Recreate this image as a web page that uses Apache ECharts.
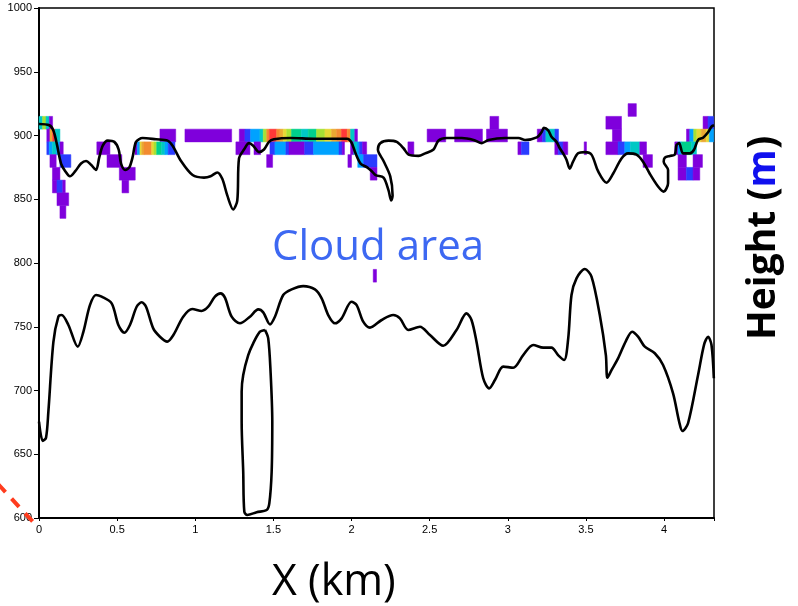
<!DOCTYPE html>
<html>
<head>
<meta charset="utf-8">
<title>Cloud area</title>
<script src="https://cdn.jsdelivr.net/npm/echarts@6/dist/echarts.min.js"></script>
<style>
  html, body { margin: 0; padding: 0; background: #fff; }
  #chart { width: 798px; height: 606px; }
</style>
</head>
<body>
<div id="chart"></div>
<script>
// tick labels
var xTicks = [0, 0.5, 1, 1.5, 2, 2.5, 3, 3.5, 4];
var yTicks = [600, 650, 700, 750, 800, 850, 900, 950, 1000];

// colour index -> rainbow colour of the cell
var palette = ['#7f00dc', '#2a3cff', '#00a2ff', '#00c8c4', '#00d08c',
               '#a6e034', '#e4d834', '#eaa832', '#f28a30', '#ff3838'];

// cells per height row (10 m tall): [x start km, x end km, colour index]
var row920 = [[3.77, 3.823, 0]];
var row910 = [[0, 0.023, 3], [0.023, 0.045, 5], [0.045, 0.066, 3], [0.066, 0.087, 0],
  [2.886, 2.942, 0], [3.628, 3.728, 0], [4.25, 4.282, 0], [4.282, 4.318, 1]];
var row900 = [[0.05, 0.07, 0], [0.07, 0.087, 7], [0.087, 0.102, 9], [0.102, 0.134, 3],
  [0.774, 0.875, 0], [0.934, 1.233, 0], [1.282, 1.318, 0], [1.318, 1.354, 1],
  [1.354, 1.414, 2], [1.414, 1.435, 3], [1.435, 1.457, 5], [1.457, 1.474, 8],
  [1.474, 1.521, 9], [1.521, 1.542, 8], [1.542, 1.563, 7], [1.563, 1.585, 6],
  [1.585, 1.616, 5], [1.616, 1.68, 4], [1.68, 1.723, 3], [1.723, 1.776, 4],
  [1.776, 1.83, 5], [1.83, 1.872, 6], [1.872, 1.904, 7], [1.904, 1.936, 8],
  [1.936, 1.972, 9], [1.972, 1.994, 8], [1.994, 2.021, 3], [2.021, 2.038, 0],
  [2.484, 2.603, 0], [2.66, 2.838, 0], [2.864, 2.998, 0], [3.189, 3.222, 0],
  [3.222, 3.244, 1], [3.244, 3.302, 3], [3.302, 3.325, 1], [3.67, 3.728, 0],
  [4.144, 4.165, 0], [4.165, 4.19, 2], [4.19, 4.21, 5], [4.21, 4.238, 6],
  [4.238, 4.27, 7], [4.27, 4.29, 6], [4.29, 4.318, 2]];
var row890 = [[0.05, 0.065, 1], [0.065, 0.086, 2], [0.086, 0.11, 3], [0.11, 0.134, 2],
  [0.134, 0.155, 0], [0.37, 0.454, 0], [0.614, 0.629, 0], [0.629, 0.646, 2],
  [0.646, 0.657, 6], [0.657, 0.672, 7], [0.672, 0.721, 8], [0.721, 0.736, 6],
  [0.736, 0.753, 5], [0.753, 0.785, 4], [0.785, 0.806, 3], [0.806, 0.827, 2],
  [0.827, 0.87, 1], [1.26, 1.35, 0], [1.376, 1.418, 0], [1.478, 1.51, 1],
  [1.51, 1.58, 2], [1.58, 1.6, 1], [1.6, 1.7, 0], [1.7, 1.757, 1],
  [1.757, 1.92, 2], [1.92, 1.94, 1], [1.94, 1.955, 0], [1.994, 2.015, 0],
  [2.015, 2.035, 3], [2.035, 2.05, 2], [2.05, 2.07, 1], [2.07, 2.097, 0],
  [2.361, 2.399, 0], [3.065, 3.087, 0], [3.087, 3.136, 1], [3.301, 3.323, 0],
  [3.323, 3.354, 1], [3.354, 3.384, 0], [3.489, 3.504, 0], [3.628, 3.706, 0],
  [3.706, 3.749, 1], [3.749, 3.785, 2], [3.785, 3.845, 3], [3.845, 3.888, 0],
  [4.069, 4.09, 0], [4.09, 4.112, 2], [4.112, 4.176, 4], [4.176, 4.208, 3]];
var row880 = [[0.07, 0.11, 0], [0.134, 0.204, 1], [0.435, 0.53, 0], [1.457, 1.495, 0],
  [1.977, 2.0, 0], [2.04, 2.077, 2], [2.077, 2.163, 1], [3.866, 3.926, 0],
  [4.09, 4.143, 0], [4.186, 4.246, 0]];
var row870 = [[0.086, 0.134, 0], [0.514, 0.616, 0], [2.12, 2.163, 0],
  [4.09, 4.143, 0], [4.143, 4.186, 1], [4.186, 4.229, 0]];
var row860 = [[0.086, 0.115, 0], [0.115, 0.152, 1], [0.152, 0.168, 0], [0.531, 0.574, 0]];
var row850 = [[0.115, 0.19, 0]];
var row840 = [[0.134, 0.172, 0]];
var row790 = [[2.139, 2.16, 0]];

// contour lines [x km, height m]
var upperLine = [[0, 909], [0.066, 908], [0.092, 904], [0.113, 894], [0.141, 878], [0.168, 872],
  [0.198, 868], [0.232, 872], [0.269, 878], [0.301, 880], [0.333, 877], [0.365, 873],
  [0.386, 883], [0.408, 892], [0.44, 896], [0.482, 895], [0.51, 889], [0.525, 878],
  [0.552, 873], [0.578, 875], [0.599, 883], [0.621, 895], [0.663, 898], [0.749, 897],
  [0.823, 896], [0.855, 892], [0.909, 880], [0.983, 869], [1.056, 867], [1.098, 868],
  [1.141, 871], [1.173, 866], [1.205, 853], [1.243, 842], [1.269, 849], [1.28, 882],
  [1.312, 889], [1.344, 894], [1.371, 892], [1.408, 887], [1.44, 889], [1.472, 895],
  [1.503, 897], [1.61, 898], [1.759, 897.5], [1.972, 897.5], [1.998, 895], [2.026, 886],
  [2.058, 878], [2.1, 875], [2.13, 872], [2.154, 869], [2.205, 867], [2.237, 857],
  [2.254, 849], [2.263, 853], [2.248, 868], [2.205, 880], [2.169, 889], [2.184, 894],
  [2.237, 896], [2.29, 895], [2.333, 890], [2.365, 885], [2.429, 884], [2.472, 886],
  [2.525, 889], [2.557, 896], [2.61, 898], [2.706, 898], [2.781, 896.5], [2.834, 894],
  [2.877, 896.5], [2.983, 898], [3.069, 898], [3.111, 896.5], [3.186, 898.5], [3.218, 903],
  [3.231, 906], [3.259, 904], [3.28, 899], [3.312, 895], [3.333, 890], [3.359, 885],
  [3.376, 881], [3.397, 874], [3.418, 879.5], [3.45, 886], [3.493, 887], [3.536, 885],
  [3.578, 872], [3.632, 863], [3.674, 870], [3.728, 882], [3.77, 886], [3.824, 885],
  [3.866, 879.5], [3.909, 870], [3.962, 860], [3.998, 856], [4.026, 862.5], [4.026, 873],
  [3.998, 879.5], [4.005, 882.6], [4.037, 884], [4.069, 885], [4.08, 892.5], [4.097, 894],
  [4.122, 886], [4.165, 886], [4.191, 888.6], [4.218, 896.5], [4.25, 898.3], [4.282, 902.5],
  [4.304, 907], [4.32, 908]];

var lowerLine = [[0, 675.5], [0.024, 660.4], [0.045, 663], [0.06, 683.4], [0.092, 738],
  [0.124, 758], [0.145, 759.2], [0.188, 751.4], [0.248, 734.4], [0.284, 746], [0.326, 767],
  [0.365, 774.9], [0.401, 773.6], [0.465, 768.4], [0.508, 751.4], [0.546, 745.3],
  [0.582, 751.4], [0.625, 765.7], [0.657, 769.2], [0.685, 765.7], [0.731, 748.7],
  [0.774, 742.2], [0.821, 738.3], [0.86, 743.5], [0.923, 757.9], [0.981, 763.9],
  [1.041, 762.4], [1.083, 765.7], [1.126, 773.6], [1.162, 776.2], [1.19, 772.8],
  [1.233, 757.9], [1.286, 752.7], [1.35, 757.9], [1.403, 763.6], [1.435, 761.3],
  [1.478, 751.9], [1.51, 757.9], [1.563, 774.9], [1.617, 779.3], [1.691, 781.9],
  [1.766, 779.3], [1.809, 772.3], [1.851, 759.2], [1.894, 752.7], [1.937, 756.6],
  [2.0, 769.6], [2.033, 767], [2.075, 754], [2.118, 749.3], [2.193, 755.3], [2.267, 759.2],
  [2.31, 756.6], [2.363, 747.5], [2.438, 750], [2.502, 743.5], [2.587, 735.1],
  [2.672, 747.5], [2.736, 760.5], [2.768, 755.3], [2.8, 738.3], [2.843, 709.6],
  [2.881, 701.7], [2.918, 708.2], [2.971, 718.7], [3.035, 717.9], [3.099, 727.8],
  [3.163, 735.7], [3.227, 733.6], [3.28, 733.6], [3.322, 727.8], [3.361, 723.9],
  [3.387, 740.9], [3.408, 774.9], [3.44, 788], [3.493, 795.3], [3.536, 789.3],
  [3.589, 759.2], [3.628, 727.8], [3.638, 710], [3.664, 716], [3.706, 725.2],
  [3.756, 738.8], [3.796, 746.1], [3.834, 742.2], [3.877, 734.4], [3.941, 729.2],
  [3.994, 720], [4.058, 697.8], [4.097, 675.5], [4.118, 668.2], [4.154, 674.3],
  [4.218, 712.2], [4.257, 736.2], [4.282, 742.2], [4.304, 735.7], [4.319, 709.6]];

var loopLine = [[1.446, 747.5], [1.414, 746.1], [1.371, 737], [1.339, 727.8], [1.307, 712.2],
  [1.297, 699], [1.297, 675.5], [1.307, 636.3], [1.314, 605], [1.333, 602.4], [1.393, 604.5],
  [1.457, 606.3], [1.474, 611.5], [1.489, 636.3], [1.493, 675.5], [1.482, 714.7],
  [1.467, 740.9], [1.446, 747.5]];

var rowH = 10;
var cellData = [];
[[920, row920], [910, row910], [900, row900], [890, row890], [880, row880],
 [870, row870], [860, row860], [850, row850], [840, row840], [790, row790]].forEach(function (r) {
  r[1].forEach(function (c) { cellData.push([c[0], c[1], r[0], c[2]]); });
});

var chart = echarts.init(document.getElementById('chart'));

var lineStyle = { color: '#000', width: 2.6 };

chart.setOption({
  animation: false,
  grid: { left: 39, top: 8, right: 84, bottom: 88, show: true, borderColor: '#000', borderWidth: 1.5 },
  xAxis: {
    type: 'value', min: 0, max: 4.32, interval: 0.5,
    splitLine: { show: false },
    axisLine: { lineStyle: { color: '#000', width: 2 } },
    axisTick: { length: 3, lineStyle: { color: '#000' } },
    axisLabel: {
      margin: 6, color: '#000', fontSize: 11, fontFamily: 'Liberation Sans',
      formatter: function (v) { return xTicks.indexOf(+v.toFixed(2)) >= 0 ? String(+v.toFixed(2)) : ''; }
    }
  },
  yAxis: {
    type: 'value', min: 600, max: 1000, interval: 50,
    splitLine: { show: false },
    axisLine: { show: true, lineStyle: { color: '#000', width: 2 } },
    axisTick: { show: true, length: 5, lineStyle: { color: '#000' } },
    axisLabel: {
      margin: 7, color: '#000', fontSize: 11, fontFamily: 'Liberation Sans',
      formatter: function (v) { return yTicks.indexOf(v) >= 0 ? String(v) : ''; }
    }
  },
  series: [
    {
      // cloud cells
      type: 'custom',
      data: cellData,
      encode: { x: [0, 1], y: 2 },
      z: 2,
      renderItem: function (params, api) {
        var p0 = api.coord([api.value(0), api.value(2) + rowH / 2]);
        var p1 = api.coord([api.value(1), api.value(2) - rowH / 2]);
        var col = palette[api.value(3)];
        return {
          type: 'rect',
          shape: { x: p0[0], y: p0[1], width: p1[0] - p0[0], height: p1[1] - p0[1] },
          style: { fill: col, stroke: col, lineWidth: 0.5 }
        };
      }
    },
    { type: 'line', data: upperLine, symbol: 'none', smooth: 0.3, lineStyle: lineStyle, z: 3 },
    { type: 'line', data: lowerLine, symbol: 'none', smooth: 0.3, lineStyle: lineStyle, z: 3 },
    { type: 'line', data: loopLine, symbol: 'none', smooth: 0.3, lineStyle: lineStyle, z: 3 }
  ],
  graphic: [
    {
      type: 'text', left: 272, top: 227, z: 10,
      style: { text: 'Cloud area', fill: '#3d68f2', font: '42px "Open Sans"' }
    },
    {
      type: 'text', left: 272, top: 561, z: 10,
      style: { text: 'X (km)', fill: '#000', font: '43px "Open Sans"' }
    },
    {
      type: 'text', x: 764, y: 238, rotation: Math.PI / 2, z: 10,
      style: {
        text: '{a|Height (}{b|m}{a|)}', align: 'center', verticalAlign: 'middle',
        rich: {
          a: { fill: '#000', font: 'bold 39px "Open Sans"' },
          b: { fill: '#1010ee', font: 'bold 39px "Open Sans"' }
        }
      }
    },
    {
      type: 'line', z: 10,
      shape: { x1: -2, y1: 484, x2: 34, y2: 523 },
      style: { stroke: '#ff3c1e', lineWidth: 4, lineDash: [11, 9] }
    }
  ]
});
</script>
</body>
</html>
